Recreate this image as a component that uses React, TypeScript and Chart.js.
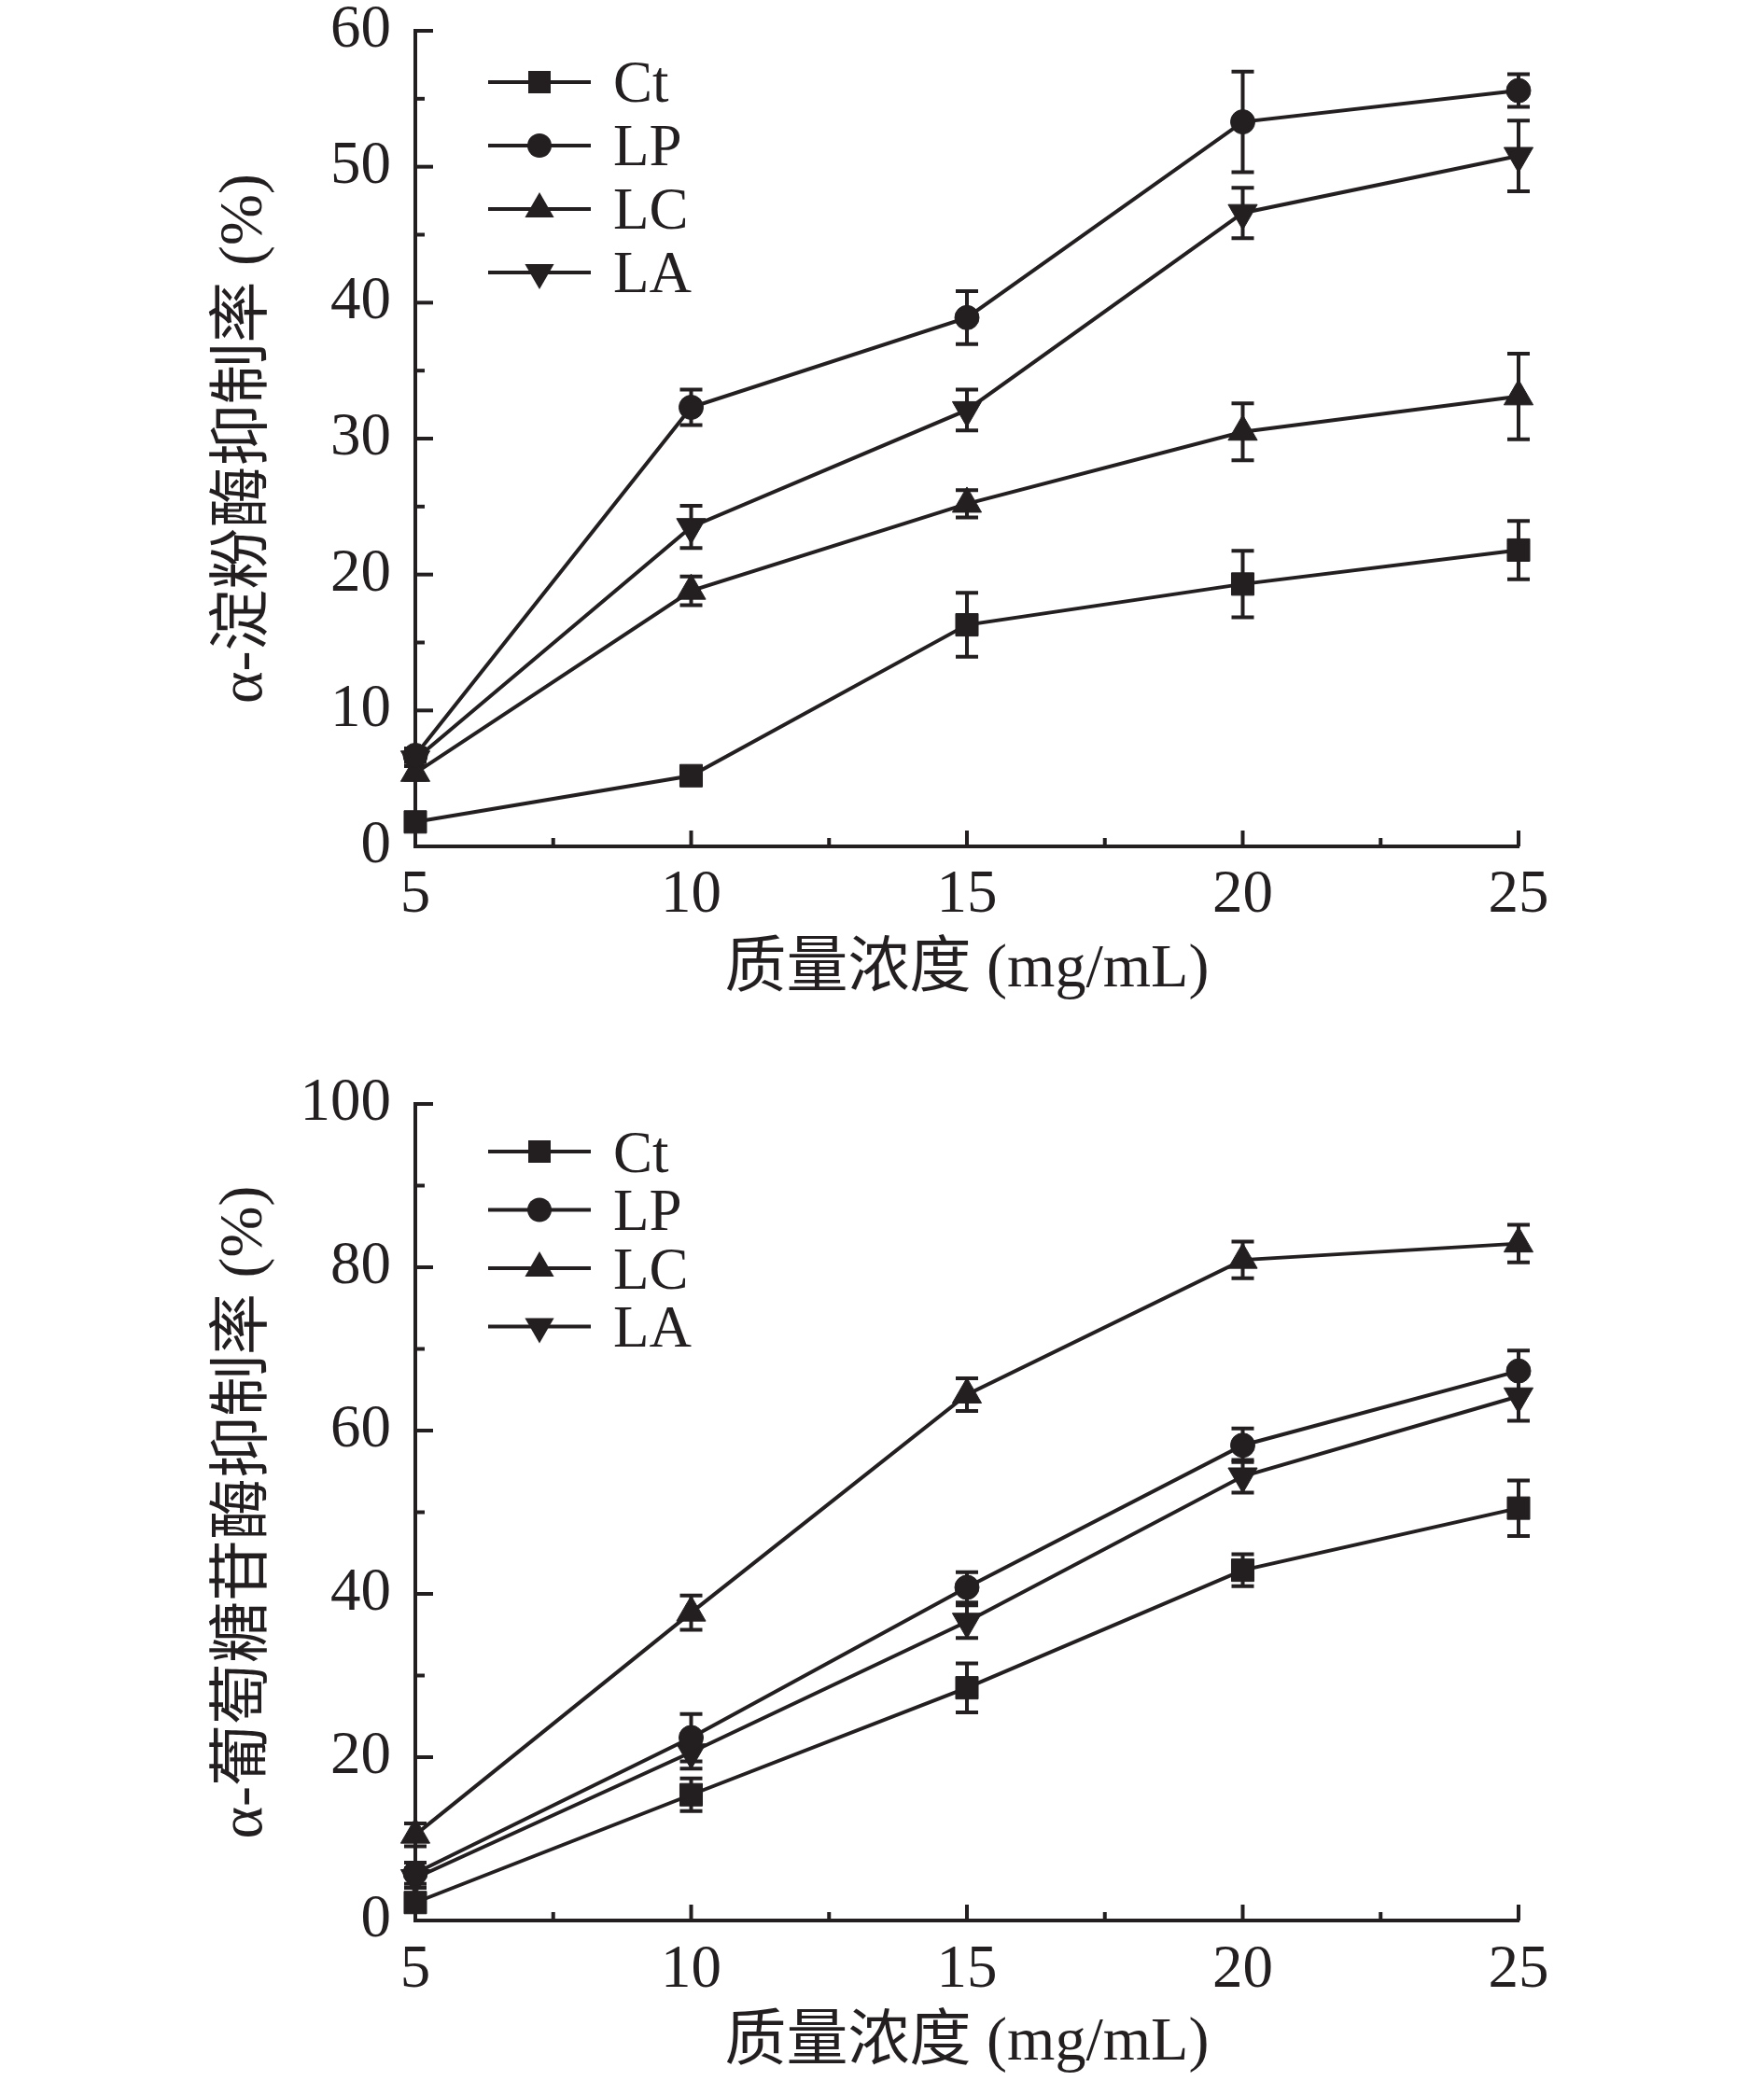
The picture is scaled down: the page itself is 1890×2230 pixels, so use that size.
import React, { useEffect, useRef } from 'react';
import { Chart, registerables } from 'chart.js';

Chart.register(...registerables);

const INK = '#231F20';
const FONT_FAMILY = "'Liberation Serif', 'Noto Sans CJK SC', serif";

// ---- data ----
const concentrations = [5, 10, 15, 20, 25];
const seriesLabels = ['Ct', 'LP', 'LC', 'LA'];
const xTickValues = [5, 10, 15, 20, 25];
const amylaseYTickValues = [0, 10, 20, 30, 40, 50, 60];
const glucosidaseYTickValues = [0, 20, 40, 60, 80, 100];

const xTitle = '质量浓度 (mg/mL)';
const amylaseYTitle = 'α-淀粉酶抑制率 (%)';
const glucosidaseYTitle = 'α-葡萄糖苷酶抑制率 (%)';

// α-amylase inhibition rate (%)
const amylaseCt = [1.8, 5.2, 16.3, 19.3, 21.8];
const amylaseCtErr = [0.4, 0.5, 2.35, 2.45, 2.15];
const amylaseLP = [6.7, 32.3, 38.9, 53.3, 55.6];
const amylaseLPErr = [0.5, 1.3, 1.95, 3.7, 1.2];
const amylaseLC = [5.4, 18.8, 25.2, 30.5, 33.1];
const amylaseLCErr = [0.5, 1.05, 1.0, 2.1, 3.15];
const amylaseLA = [6.4, 23.5, 32.1, 46.6, 50.8];
const amylaseLAErr = [0.5, 1.55, 1.5, 1.85, 2.6];

// α-glucosidase inhibition rate (%)
const glucosidaseCt = [2.2, 15.4, 28.5, 42.9, 50.5];
const glucosidaseCtErr = [0.5, 2.0, 3.0, 1.95, 3.4];
const glucosidaseLP = [5.8, 22.4, 40.8, 58.2, 67.3];
const glucosidaseLPErr = [1.3, 2.9, 1.85, 2.05, 2.5];
const glucosidaseLC = [10.5, 37.7, 64.4, 80.9, 82.9];
const glucosidaseLCErr = [1.4, 2.1, 2.0, 2.25, 2.3];
const glucosidaseLA = [5.2, 20.6, 36.6, 54.4, 64.2];
const glucosidaseLAErr = [1.2, 2.0, 2.0, 2.0, 3.0];

// ---- marker styles ----
const markerStyles = ['rect', 'circle', 'triangle', 'triangle'];
const markerRotations = [0, 0, 0, 180];
const markerRadii = [17, 13, 18, 18];

function drawMarker(ctx: CanvasRenderingContext2D, style: string, rotation: number, r: number, x: number, y: number) {
  ctx.beginPath();
  if (style === 'rect') {
    const s = r * Math.SQRT1_2;
    ctx.rect(x - s, y - s, 2 * s, 2 * s);
  } else if (style === 'circle') {
    ctx.arc(x, y, r, 0, Math.PI * 2);
  } else {
    let a = (rotation * Math.PI) / 180;
    ctx.moveTo(x + Math.sin(a) * r, y - Math.cos(a) * r);
    a += (2 * Math.PI) / 3;
    ctx.lineTo(x + Math.sin(a) * r, y - Math.cos(a) * r);
    a += (2 * Math.PI) / 3;
    ctx.lineTo(x + Math.sin(a) * r, y - Math.cos(a) * r);
    ctx.closePath();
  }
  ctx.fill();
}

const errorBarPlugin = {
  id: 'errorBars',
  beforeDatasetsDraw(chart: any, _args: any, o: any) {
    const xs = chart.scales.x;
    const ys = chart.scales.y;
    const ctx = chart.ctx as CanvasRenderingContext2D;
    ctx.save();
    ctx.strokeStyle = INK;
    ctx.lineWidth = o.lineWidth;
    chart.data.datasets.forEach((ds: any) => {
      ds.data.forEach((pt: any, j: number) => {
        const e = ds.errorBars[j];
        if (!e) return;
        const x = xs.getPixelForValue(pt.x);
        const yt = ys.getPixelForValue(pt.y + e);
        const yb = ys.getPixelForValue(pt.y - e);
        ctx.beginPath();
        ctx.moveTo(x, yt);
        ctx.lineTo(x, yb);
        ctx.moveTo(x - o.cap / 2, yt);
        ctx.lineTo(x + o.cap / 2, yt);
        ctx.moveTo(x - o.cap / 2, yb);
        ctx.lineTo(x + o.cap / 2, yb);
        ctx.stroke();
      });
    });
    ctx.restore();
  },
};

const tickMarkPlugin = {
  id: 'tickMarks',
  afterDraw(chart: any, _args: any, o: any) {
    const { ctx, chartArea } = chart;
    const xs = chart.scales.x;
    const ys = chart.scales.y;
    ctx.save();
    ctx.strokeStyle = INK;
    ctx.lineWidth = o.width;
    const seg = (x1: number, y1: number, x2: number, y2: number) => {
      ctx.beginPath();
      ctx.moveTo(x1, y1);
      ctx.lineTo(x2, y2);
      ctx.stroke();
    };
    const yv = ys.ticks.map((t: any) => t.value);
    yv.forEach((v: number, i: number) => {
      const p = ys.getPixelForValue(v);
      seg(chartArea.left, p, chartArea.left + o.yMajor, p);
      if (i < yv.length - 1) {
        const m = ys.getPixelForValue((v + yv[i + 1]) / 2);
        seg(chartArea.left, m, chartArea.left + o.yMinor, m);
      }
    });
    const xv = xs.ticks.map((t: any) => t.value);
    xv.forEach((v: number, i: number) => {
      const p = xs.getPixelForValue(v);
      seg(p, chartArea.bottom, p, chartArea.bottom - o.xMajor);
      if (i < xv.length - 1) {
        const m = xs.getPixelForValue((v + xv[i + 1]) / 2);
        seg(m, chartArea.bottom, m, chartArea.bottom - o.xMinor);
      }
    });
    ctx.restore();
  },
};

const lineLegendPlugin = {
  id: 'lineLegend',
  afterDraw(chart: any, _args: any, o: any) {
    const { ctx, chartArea } = chart;
    ctx.save();
    chart.data.datasets.forEach((ds: any, i: number) => {
      const y = chartArea.top + o.top + i * o.spacing;
      const x0 = chartArea.left + o.left;
      ctx.strokeStyle = INK;
      ctx.lineWidth = o.lineWidth;
      ctx.beginPath();
      ctx.moveTo(x0, y);
      ctx.lineTo(x0 + o.length, y);
      ctx.stroke();
      ctx.fillStyle = INK;
      drawMarker(ctx, ds.pointStyle, ds.rotation, ds.pointRadius, x0 + o.length / 2, y);
      ctx.font = `${o.fontSize}px ${FONT_FAMILY}`;
      ctx.textBaseline = 'middle';
      ctx.textAlign = 'left';
      ctx.fillText(ds.label, x0 + o.length + o.gap, y + o.textDy);
    });
    ctx.restore();
  },
};

interface PanelParams {
  series: number[][];
  errors: number[][];
  yTicks: number[];
  yTitle: string;
  padTop: number;
  xScaleHeight: number;
  xTickPad: number;
  xTitlePad: number;
  legendTop: number;
  legendSpacing: number;
  legendTextDy: number;
}

function buildConfig(p: PanelParams): any {
  const datasets = p.series.map((vals, i) => ({
    label: seriesLabels[i],
    data: concentrations.map((x, j) => ({ x, y: vals[j] })),
    errorBars: p.errors[i],
    borderColor: INK,
    backgroundColor: INK,
    borderWidth: 4,
    pointStyle: markerStyles[i],
    rotation: markerRotations[i],
    pointRadius: markerRadii[i],
    pointHoverRadius: markerRadii[i],
    pointBackgroundColor: INK,
    pointBorderColor: INK,
    pointBorderWidth: 1,
    tension: 0,
    fill: false,
    clip: false,
  }));
  const yMin = p.yTicks[0];
  const yMax = p.yTicks[p.yTicks.length - 1];
  return {
    type: 'line',
    data: { datasets },
    options: {
      responsive: false,
      animation: false,
      events: [],
      layout: { padding: { left: 0, right: 263, top: p.padTop, bottom: 0 } },
      plugins: {
        legend: { display: false },
        tooltip: { enabled: false },
        errorBars: { lineWidth: 4, cap: 24 },
        tickMarks: { width: 4, yMajor: 19, yMinor: 10, xMajor: 17, xMinor: 9 },
        lineLegend: {
          left: 78,
          top: p.legendTop,
          spacing: p.legendSpacing,
          length: 110,
          gap: 24,
          lineWidth: 4,
          fontSize: 63,
          textDy: p.legendTextDy,
        },
      },
      scales: {
        x: {
          type: 'linear',
          min: xTickValues[0],
          max: xTickValues[xTickValues.length - 1],
          afterBuildTicks: (s: any) => {
            s.ticks = xTickValues.map((v) => ({ value: v }));
          },
          afterFit: (s: any) => {
            s.height = p.xScaleHeight;
            s.paddingLeft = 0;
            s.paddingRight = 0;
          },
          grid: { display: false },
          border: { display: true, color: INK, width: 4 },
          ticks: {
            color: INK,
            font: { family: FONT_FAMILY, size: 65, lineHeight: 1 },
            padding: p.xTickPad,
            maxRotation: 0,
            minRotation: 0,
            autoSkip: false,
          },
          title: {
            display: true,
            text: xTitle,
            color: INK,
            font: { family: FONT_FAMILY, size: 66, lineHeight: 1 },
            padding: { top: 0, bottom: p.xTitlePad },
          },
        },
        y: {
          type: 'linear',
          min: yMin,
          max: yMax,
          afterBuildTicks: (s: any) => {
            s.ticks = p.yTicks.map((v) => ({ value: v }));
          },
          afterFit: (s: any) => {
            s.width = 445;
            s.paddingTop = 0;
            s.paddingBottom = 0;
          },
          grid: { display: false },
          border: { display: true, color: INK, width: 4 },
          ticks: {
            color: INK,
            font: { family: FONT_FAMILY, size: 65, lineHeight: 1 },
            padding: 18,
            autoSkip: false,
          },
          title: {
            display: true,
            text: p.yTitle,
            color: INK,
            font: { family: FONT_FAMILY, size: 66, lineHeight: 1 },
            padding: { top: 230, bottom: 0 },
          },
        },
      },
    },
    plugins: [errorBarPlugin, tickMarkPlugin, lineLegendPlugin],
  };
}

const amylasePanel: PanelParams = {
  series: [amylaseCt, amylaseLP, amylaseLC, amylaseLA],
  errors: [amylaseCtErr, amylaseLPErr, amylaseLCErr, amylaseLAErr],
  yTicks: amylaseYTickValues,
  yTitle: amylaseYTitle,
  padTop: 33,
  xScaleHeight: 208,
  xTickPad: 12,
  xTitlePad: 42,
  legendTop: 55,
  legendSpacing: 68,
  legendTextDy: 4,
};

const glucosidasePanel: PanelParams = {
  series: [glucosidaseCt, glucosidaseLP, glucosidaseLC, glucosidaseLA],
  errors: [glucosidaseCtErr, glucosidaseLPErr, glucosidaseLCErr, glucosidaseLAErr],
  yTicks: glucosidaseYTickValues,
  yTitle: glucosidaseYTitle,
  padTop: 68,
  xScaleHeight: 172,
  xTickPad: 13,
  xTitlePad: 7,
  legendTop: 51,
  legendSpacing: 62.5,
  legendTextDy: 5,
};

function Panel({ params }: { params: PanelParams }) {
  const ref = useRef<HTMLCanvasElement | null>(null);
  useEffect(() => {
    if (!ref.current) return;
    const chart = new Chart(ref.current, buildConfig(params));
    return () => chart.destroy();
  }, [params]);
  return (
    <canvas
      ref={ref}
      width={1890}
      height={1115}
      style={{ display: 'block', width: 1890, height: 1115 }}
    />
  );
}

export default function App() {
  return (
    <div
      style={{
        position: 'absolute',
        left: 0,
        top: 0,
        width: 1890,
        height: 2230,
        background: '#ffffff',
      }}
    >
      <Panel params={amylasePanel} />
      <Panel params={glucosidasePanel} />
    </div>
  );
}
